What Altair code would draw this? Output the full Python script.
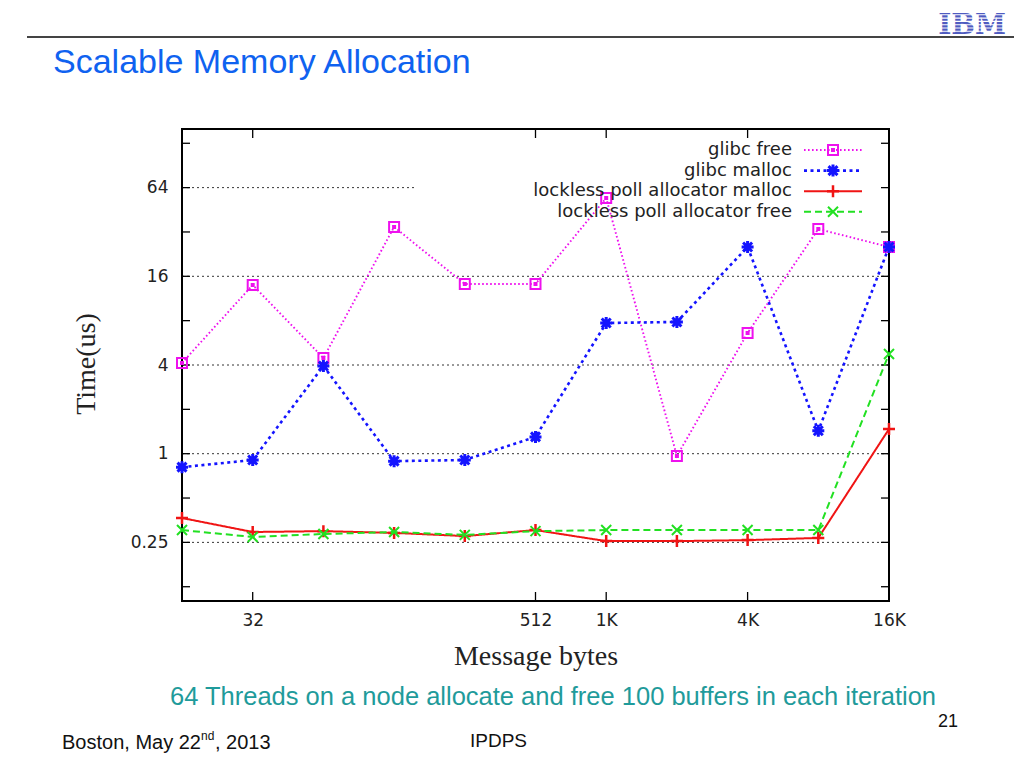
import altair as alt
import pandas as pd

# ---------------- data ----------------
sizes = [16, 32, 64, 128, 256, 512, 1024, 2048, 4096, 8192, 16384]
glibc_free = [4.13, 13.97, 4.46, 34.6, 14.2, 14.2, 54.4, 0.965, 6.6, 33.5, 25.3]
glibc_malloc = [0.81, 0.906, 3.94, 0.89, 0.906, 1.30, 7.71, 7.84, 25.3, 1.43, 25.3]
lockless_malloc = [0.366, 0.294, 0.298, 0.29, 0.276, 0.303, 0.255, 0.255, 0.259, 0.268, 1.47]
lockless_free = [0.303, 0.272, 0.285, 0.294, 0.281, 0.298, 0.303, 0.303, 0.303, 0.303, 4.75]

series_names = ["glibc free", "glibc malloc",
                "lockless poll allocator malloc", "lockless poll allocator free"]
series_values = [glibc_free, glibc_malloc, lockless_malloc, lockless_free]

x_label_values = [32, 512, 1024, 4096, 16384]
y_label_values = [0.25, 1, 4, 16, 64]
y_tick_values = [0.125, 0.25, 0.5, 1, 2, 4, 8, 16, 32, 64, 128]
grid_values = [0.25, 1, 4, 16, 64]

# ---------------- styles ----------------
W, H = 707, 472
colors = ["#ee11ee", "#1414ff", "#f01414", "#22e022"]
dashes = [[1.6, 2.4], [3, 3.5], [1, 0], [7, 4]]
widths = [1.9, 2.6, 2.0, 2.0]
SQUARE_DOT = "M-1,-1L1,-1L1,1L-1,1Z M-0.2,-0.2L0.2,-0.2L0.2,0.2L-0.2,0.2Z"
ASTERISK = "M-1,0L1,0M0,-1L0,1M-0.75,-0.75L0.75,0.75M-0.75,0.75L0.75,-0.75"
PLUS = "M-1,0L1,0M0,-1L0,1"
CROSS = "M-1,-1L1,1M-1,1L1,-1"
shapes = [SQUARE_DOT, ASTERISK, PLUS, CROSS]
msizes = [100, 144, 144, 100]
mwidths = [2.0, 3.0, 2.5, 2.0]

xs = alt.Scale(type="log", base=2, domain=[16, 16384], nice=False)
ys = alt.Scale(type="log", base=2, domain=[0.1, 160], nice=False)

x_axis = alt.Axis(values=x_label_values,
                  labelExpr="datum.value >= 1024 ? (datum.value/1024) + 'K' : datum.value + ''",
                  labelPadding=11, labelFlush=False, labelOverlap=False, title="")
y_axis = alt.Axis(values=y_label_values, format="~g", labelPadding=14,
                  labelFlush=False, labelOverlap=False, title="")

one = pd.DataFrame({"k": [0]})

layers = []

# grid lines
grid_df = pd.DataFrame({"v": grid_values})
layers.append(
    alt.Chart(grid_df).mark_rule(strokeDash=[2, 3], color="#000", strokeWidth=0.8)
    .encode(y=alt.Y("v:Q", scale=ys, axis=y_axis), x=alt.value(0), x2=alt.value(W))
)
# opaque key box
layers.append(
    alt.Chart(one).mark_rect(color="white")
    .encode(x=alt.value(233), x2=alt.value(W - 1), y=alt.value(11), y2=alt.value(93))
)
# inward ticks
ytick_df = pd.DataFrame({"v": y_tick_values})
for x0, x1 in [(0, 8), (W - 8, W)]:
    layers.append(
        alt.Chart(ytick_df).mark_rule(color="#000", strokeWidth=1.3)
        .encode(y=alt.Y("v:Q", scale=ys, axis=y_axis), x=alt.value(x0), x2=alt.value(x1))
    )
xtick_df = pd.DataFrame({"v": x_label_values})
for y0, y1 in [(H - 9, H), (0, 9)]:
    layers.append(
        alt.Chart(xtick_df).mark_rule(color="#000", strokeWidth=1.3)
        .encode(x=alt.X("v:Q", scale=xs, axis=x_axis), y=alt.value(y0), y2=alt.value(y1))
    )

# series
for i, (name, vals) in enumerate(zip(series_names, series_values)):
    df = pd.DataFrame({"size": sizes, "value": vals})
    xenc = alt.X("size:Q", scale=xs, axis=x_axis)
    yenc = alt.Y("value:Q", scale=ys, axis=y_axis)
    layers.append(
        alt.Chart(df).mark_line(color=colors[i], strokeDash=dashes[i], strokeWidth=widths[i])
        .encode(x=xenc, y=yenc)
    )
    layers.append(
        alt.Chart(df).mark_point(shape=shapes[i], filled=False, color=colors[i],
                                 strokeWidth=mwidths[i], size=msizes[i], opacity=1)
        .encode(x=xenc, y=yenc)
    )

# key
for i, name in enumerate(series_names):
    ly = 21 + i * 20.6
    ndf = pd.DataFrame({"name": [name]})
    layers.append(
        alt.Chart(ndf).mark_text(align="right", baseline="middle", font="DejaVu Sans",
                                 fontSize=18, color="#222")
        .encode(x=alt.value(610), y=alt.value(ly), text="name:N")
    )
    layers.append(
        alt.Chart(ndf).mark_rule(color=colors[i], strokeDash=dashes[i], strokeWidth=widths[i])
        .encode(x=alt.value(622), x2=alt.value(680), y=alt.value(ly))
    )
    layers.append(
        alt.Chart(ndf).mark_point(shape=shapes[i], filled=False, color=colors[i],
                                  strokeWidth=mwidths[i], size=msizes[i], opacity=1)
        .encode(x=alt.value(651), y=alt.value(ly))
    )


def label(text, x, y, size, color="#111", font="Liberation Sans", align="left",
          baseline="alphabetic", angle=0, weight="normal"):
    return alt.Chart(pd.DataFrame({"t": [text]})).mark_text(
        align=align, baseline=baseline, font=font, fontSize=size, color=color,
        angle=angle, fontWeight=weight
    ).encode(x=alt.value(x), y=alt.value(y), text="t:N")


# axis titles
layers.append(label("Time(us)", -95, 235, 28, "#222", "Liberation Serif", "center", "middle", 270))
layers.append(label("Message bytes", 354, 536, 28, "#222", "Liberation Serif", "center"))

# slide decorations
layers.append(
    alt.Chart(one).mark_rule(color="#444", strokeWidth=2)
    .encode(x=alt.value(-155), x2=alt.value(832), y=alt.value(-92))
)
layers.append(label("Scalable Memory Allocation", -129, -56, 34, "#0f62f0"))
layers.append(label("IBM", 790, -95, 28, "#4f5bc0", "DejaVu Serif", "center", weight="bold"))
for k in range(7):
    layers.append(
        alt.Chart(one).mark_rule(color="white", strokeWidth=1.1)
        .encode(x=alt.value(755), x2=alt.value(826), y=alt.value(-117.5 + k * 3.3))
    )
layers.append(label("64 Threads on a node allocate and free 100 buffers in each iteration",
                    -12, 576, 25.5, "#1f9b9b"))
layers.append(label("21", 776, 598, 18, "#111", align="right"))
layers.append(label("Boston, May 22", -120, 620, 20))
layers.append(label("nd", 19, 611, 12))
layers.append(label(", 2013", 33, 620, 20))
layers.append(label("IPDPS", 288, 618, 19))

chart = alt.layer(*layers).properties(
    width=W, height=H,
    autosize=alt.AutoSizeParams(type="none"),
    padding={"left": 174, "top": 121, "right": 127, "bottom": 156},
    background="white",
).configure_view(
    stroke="#000", strokeWidth=2
).configure_axis(
    labelFont="DejaVu Sans", labelFontSize=17, labelColor="#222",
    grid=False, ticks=False, domain=False
)

chart.save("out.html", embed_options={"renderer": "svg", "actions": False})
